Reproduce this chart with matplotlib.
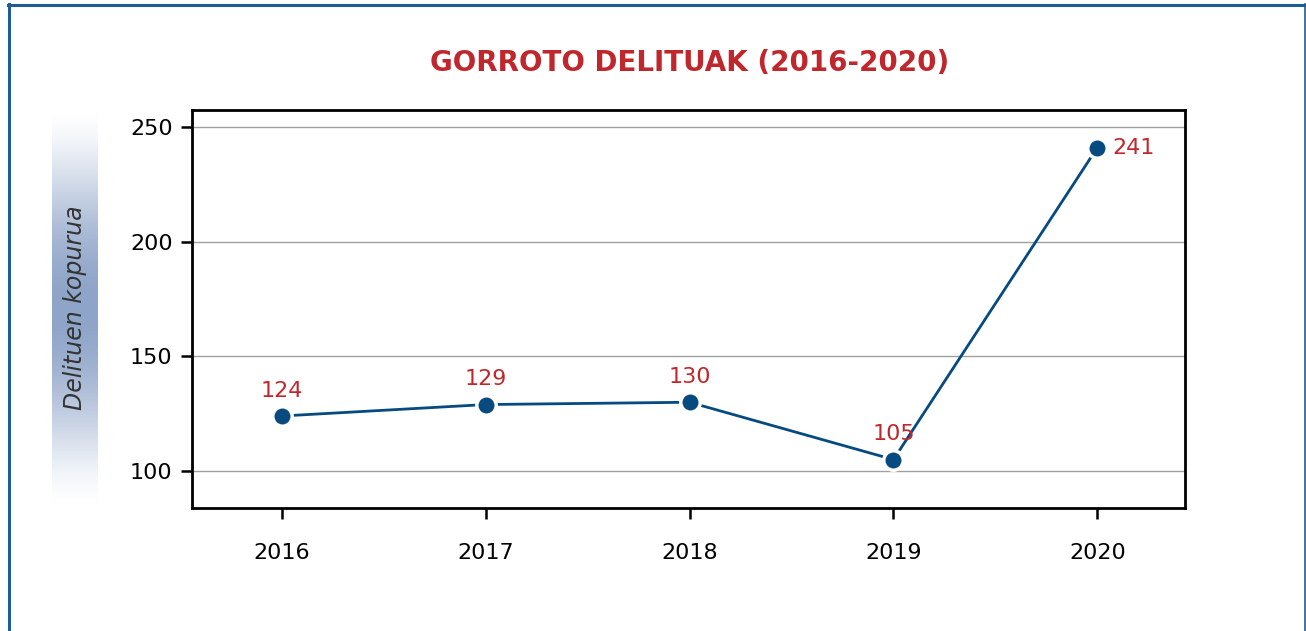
import numpy as np
import matplotlib.pyplot as plt
from matplotlib.lines import Line2D

# --- data ---
YEARS = [2016, 2017, 2018, 2019, 2020]
COUNTS = [124, 129, 130, 105, 241]
Y_TICKS = [100, 150, 200, 250]

TITLE = 'GORROTO DELITUAK (2016-2020)'
Y_LABEL = 'Delituen kopurua'

RED = '#c0272d'
NAVY = '#064a80'
FRAME = '#1f5c96'

W, H = 1306, 631
fig = plt.figure(figsize=(W / 100, H / 100), dpi=100)
fig.patch.set_facecolor('white')


def fx(px):
    return px / W


def fy(py):
    return 1 - py / H


# outer frame (left, top, right; bottom open)
fig.add_artist(Line2D([fx(9), fx(9)], [fy(4), 0], color=FRAME, lw=2.2))
fig.add_artist(Line2D([fx(8), fx(1305)], [fy(5), fy(5)], color=FRAME, lw=2.2))
fig.add_artist(Line2D([fx(1305), fx(1305)], [fy(4), 0], color=FRAME, lw=1.2))

# gradient band behind the y label
band = fig.add_axes([fx(52), fy(505), fx(98) - fx(52), fy(110) - fy(505)])
t = np.linspace(0, 1, 256)
strength = np.sin(np.pi * t) ** 1.5
top = np.array([1.0, 1.0, 1.0])
mid = np.array([0x8e, 0xa4, 0xc8]) / 255
grad = top[None, :] * (1 - strength[:, None]) + mid[None, :] * strength[:, None]
band.imshow(grad[:, None, :], aspect='auto', extent=[0, 1, 0, 1])
band.axis('off')
band.text(0.5, 0.5, Y_LABEL, rotation=90, ha='center', va='center',
          fontsize=17, style='italic', color='#333333', family='DejaVu Sans',
          transform=band.transAxes)

# main axes
ax = fig.add_axes([fx(192), fy(508), fx(1185) - fx(192), fy(110) - fy(508)])
ax.plot(YEARS, COUNTS, color=NAVY, lw=2, marker='o', markersize=14,
        markerfacecolor=NAVY, markeredgecolor='white', markeredgewidth=2.5,
        zorder=3, clip_on=False)

for x, v in zip(YEARS, COUNTS):
    if x == YEARS[-1]:
        ax.annotate(str(v), (x, v), xytext=(11, 0), textcoords='offset points',
                    ha='left', va='center', color=RED, fontsize=16)
    else:
        ax.annotate(str(v), (x, v), xytext=(0, 11), textcoords='offset points',
                    ha='center', va='bottom', color=RED, fontsize=16)

ax.set_xlim(2015.56, 2020.43)
ax.set_ylim(83.9, 257.4)
ax.set_xticks(YEARS)
ax.set_yticks(Y_TICKS)
ax.tick_params(axis='both', direction='out', length=8, width=1.8, labelsize=16,
               colors='black')
ax.tick_params(axis='x', pad=17)
ax.tick_params(axis='y', pad=6)
ax.grid(axis='y', color='#a0a0a0', lw=1)
ax.set_axisbelow(True)
for s in ax.spines.values():
    s.set_linewidth(2)
    s.set_color('black')

fig.text(fx(690), fy(63), TITLE, ha='center', va='center', color=RED,
         fontsize=20, fontweight='bold')

fig.savefig('out.png', dpi=100)
